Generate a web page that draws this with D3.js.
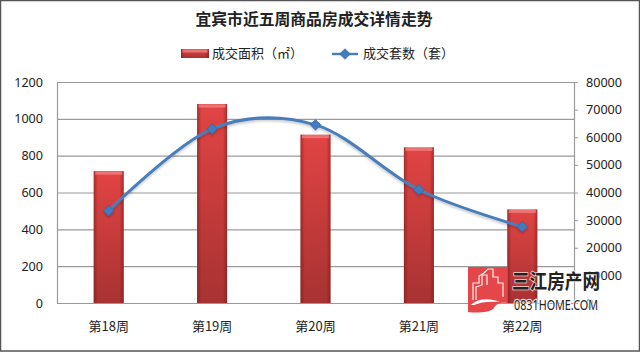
<!DOCTYPE html>
<html>
<head>
<meta charset="utf-8">
<script src="https://cdnjs.cloudflare.com/ajax/libs/d3/7.8.5/d3.min.js"></script>
<style>
  html, body { margin: 0; padding: 0; background: #fff; }
  svg { display: block; }
  text { font-family: "Noto Sans", "Noto Sans CJK SC", sans-serif; fill: #222; }
  .cjk { font-family: "Noto Sans CJK SC", sans-serif; }
</style>
</head>
<body>
<svg id="chart" width="640" height="352"></svg>
<script>
// chart data
const weeks = ['第18周', '第19周', '第20周', '第21周', '第22周'];
const areaValues = [716, 1080, 914, 845, 508];
const setValues = [33400, 63000, 64500, 41000, 27600];
const leftTicks = [0, 200, 400, 600, 800, 1000, 1200];
const rightTicks = [0, 10000, 20000, 30000, 40000, 50000, 60000, 70000, 80000];

const svg = d3.select('#chart');
const margin = { top: 82, right: 66, bottom: 49, left: 57 };
const W = 640 - margin.left - margin.right;
const H = 352 - margin.top - margin.bottom;

// ---- defs
const defs = svg.append('defs');

const barV = defs.append('linearGradient').attr('id', 'barV')
  .attr('x1', 0).attr('y1', 0).attr('x2', 0).attr('y2', 1);
barV.append('stop').attr('offset', '0%').attr('stop-color', '#e24444');
barV.append('stop').attr('offset', '100%').attr('stop-color', '#a83232');

const barH = defs.append('linearGradient').attr('id', 'barH');
barH.append('stop').attr('offset', '0%').attr('stop-color', '#6e1414').attr('stop-opacity', 0.5);
barH.append('stop').attr('offset', '14%').attr('stop-color', '#6e1414').attr('stop-opacity', 0);
barH.append('stop').attr('offset', '86%').attr('stop-color', '#6e1414').attr('stop-opacity', 0);
barH.append('stop').attr('offset', '100%').attr('stop-color', '#6e1414').attr('stop-opacity', 0.5);

const shadow = defs.append('filter').attr('id', 'shadow')
  .attr('x', '-20%').attr('y', '-20%').attr('width', '140%').attr('height', '140%');
shadow.append('feDropShadow').attr('dx', 0).attr('dy', 2).attr('stdDeviation', 1.2)
  .attr('flood-color', '#000').attr('flood-opacity', 0.2);

// ---- frame
svg.append('rect').attr('x', 0.5).attr('y', 0.5).attr('width', 639).attr('height', 350.5)
  .attr('fill', '#fff').attr('stroke', '#555').attr('stroke-width', 1.5);

// ---- title + legend
svg.append('text').attr('class', 'cjk')
  .attr('x', 314).attr('y', 25).attr('text-anchor', 'middle')
  .attr('font-size', 15.8).attr('font-weight', 700).attr('fill', '#111')
  .text('宜宾市近五周商品房成交详情走势');

function drawBarShape(sel, x, y, w, h) {
  sel.append('rect').attr('x', x).attr('y', y).attr('width', w).attr('height', h).attr('fill', 'url(#barV)');
  sel.append('rect').attr('x', x).attr('y', y).attr('width', w).attr('height', h).attr('fill', 'url(#barH)');
  sel.append('rect').attr('x', x + 1.5).attr('y', y + 0.5).attr('width', w - 3).attr('height', 3)
    .attr('fill', '#f08080').attr('opacity', 0.8);
}

const legend = svg.append('g');
drawBarShape(legend.append('g'), 181, 49, 28, 9);
legend.append('text').attr('class', 'cjk').attr('x', 212).attr('y', 58)
  .attr('font-size', 13).text('成交面积（㎡）');

// ---- plot
const g = svg.append('g').attr('transform', `translate(${margin.left},${margin.top})`);

const xBar = d3.scaleBand().domain(weeks).range([0, W]).paddingInner(0.71).paddingOuter(0.355);
const yLeft = d3.scaleLinear().domain([0, 1200]).range([H, 0]);
const yRight = d3.scaleLinear().domain([0, 80000]).range([H, 0]);
const cx = d => xBar(d) + xBar.bandwidth() / 2;

// grid lines
g.append('g').selectAll('line').data(leftTicks.slice(1)).enter().append('line')
  .attr('x1', 0).attr('x2', W)
  .attr('y1', d => yLeft(d) + 0.5).attr('y2', d => yLeft(d) + 0.5)
  .attr('stroke', '#9a9a9a').attr('stroke-width', 1.2);

// axes
const axisLeft = g.append('g')
  .call(d3.axisLeft(yLeft).tickValues(leftTicks).tickFormat(d3.format('d')).tickSize(0).tickPadding(14));
const axisRight = g.append('g').attr('transform', `translate(${W},0)`)
  .call(d3.axisRight(yRight).tickValues(rightTicks).tickFormat(d3.format('d')).tickSize(4).tickPadding(8));
[axisLeft, axisRight].forEach(a => {
  a.selectAll('.domain').attr('stroke', '#9a9a9a').attr('stroke-width', 1.2);
  a.selectAll('line').attr('stroke', '#9a9a9a');
  a.selectAll('text').attr('font-family', '"Noto Sans", sans-serif').attr('font-size', 12.6).attr('fill', '#222');
});

// bars
weeks.forEach((wk, i) => {
  drawBarShape(g.append('g'), xBar(wk), yLeft(areaValues[i]), xBar.bandwidth(), H - yLeft(areaValues[i]));
});

// baseline + x labels
g.append('line').attr('x1', 0).attr('x2', W).attr('y1', H + 0.5).attr('y2', H + 0.5)
  .attr('stroke', '#9a9a9a').attr('stroke-width', 1.2);
g.append('g').selectAll('text').data(weeks).enter().append('text').attr('class', 'cjk')
  .attr('x', d => cx(d)).attr('y', H + 28).attr('text-anchor', 'middle')
  .attr('font-size', 13).attr('fill', '#222').text(d => d);

// line series
const points = weeks.map((wk, i) => [cx(wk), yRight(setValues[i])]);
const lineGen = d3.line().curve(d3.curveCatmullRom.alpha(0));
const lineLayer = g.append('g').attr('filter', 'url(#shadow)');
lineLayer.append('path').attr('d', lineGen(points))
  .attr('fill', 'none').attr('stroke', '#4a7ebb').attr('stroke-width', 3).attr('stroke-linecap', 'round');
const diamond = d3.symbol().type(d3.symbolDiamond2).size(72);
lineLayer.selectAll('.pt').data(points).enter().append('path').attr('class', 'pt')
  .attr('transform', d => `translate(${d[0]},${d[1]})`)
  .attr('d', diamond).attr('fill', '#3f7cc0').attr('stroke', '#2c5f9a').attr('stroke-width', 0.6);

// line legend
const legLine = svg.append('g');
legLine.append('line').attr('x1', 332).attr('x2', 358).attr('y1', 54).attr('y2', 54)
  .attr('stroke', '#4a7ebb').attr('stroke-width', 2.4);
legLine.append('path').attr('transform', 'translate(345,54)').attr('d', diamond)
  .attr('fill', '#3f7cc0').attr('stroke', '#2c5f9a').attr('stroke-width', 0.6);
legLine.append('text').attr('class', 'cjk').attr('x', 363).attr('y', 58)
  .attr('font-size', 13).text('成交套数（套）');

// ---- watermark, sits on top of everything like in the source image
const wm = svg.append('g');
wm.append('path')
  .attr('d', 'M468,267H507V303C500,302 496,304 494,308C490,313 476,313 468,312Z')
  .attr('fill', '#e5464a');
wm.append('path')
  .attr('d', 'M473,300V283H479V276L484,273L488,269H493V277H498V283H503V297M476,300V287L482,285V275H487V285')
  .attr('fill', 'none').attr('stroke', '#fff').attr('stroke-width', 1.2).attr('opacity', 0.9);
wm.append('path')
  .attr('d', 'M471,305C478,298 490,298 500,302C490,301 480,302 474,305Z')
  .attr('fill', '#fff');

wm.append('text').attr('class', 'cjk').attr('x', 512).attr('y', 289)
  .attr('font-size', 20).attr('font-weight', 700)
  .attr('textLength', 88).attr('lengthAdjust', 'spacingAndGlyphs')
  .attr('fill', '#555').attr('stroke', '#fff').attr('stroke-width', 1.6)
  .attr('paint-order', 'stroke').attr('stroke-opacity', 0.8)
  .text('三江房产网');
wm.append('text').attr('x', 514).attr('y', 310)
  .attr('font-family', '"Liberation Sans Narrow", "Liberation Sans", sans-serif')
  .attr('font-size', 14).attr('textLength', 84).attr('lengthAdjust', 'spacingAndGlyphs')
  .attr('fill', '#444').attr('stroke', '#fff').attr('stroke-width', 2.5)
  .attr('paint-order', 'stroke').attr('stroke-opacity', 0.85)
  .text('0831HOME.COM');
</script>
</body>
</html>
